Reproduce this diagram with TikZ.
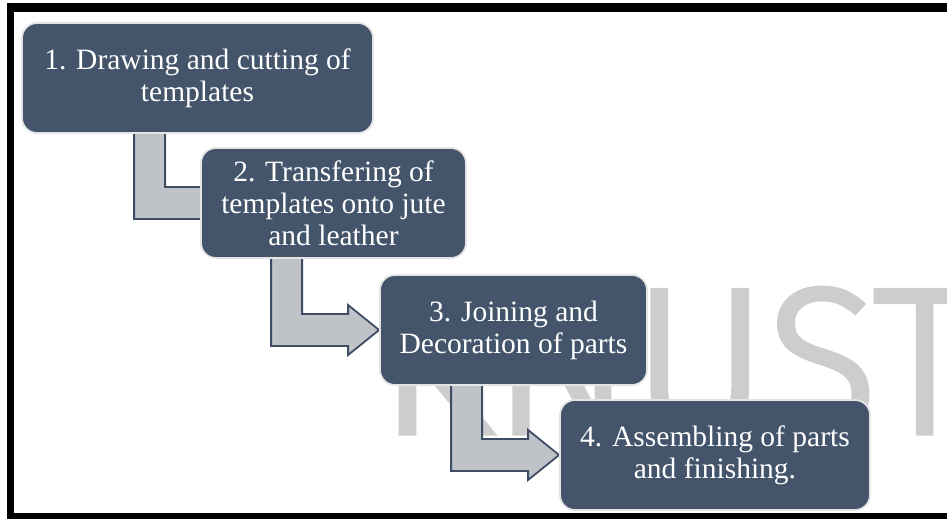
\documentclass[tikz,border=0pt]{standalone}
\usepackage{fontspec}
\setmainfont{Liberation Serif}
\newfontfamily\wmfont{Fira Sans}[UprightFont=* Light, FakeBold=2.5]
\usetikzlibrary{calc}
\definecolor{boxfill}{HTML}{44546A}
\definecolor{boxedge}{HTML}{E4E4E4}
\definecolor{arrowfill}{HTML}{BFC3C8}
\definecolor{arrowedge}{HTML}{3E4D63}
\definecolor{wmgray}{HTML}{CDCDCD}
\pgfdeclarelayer{watermark}
\pgfdeclarelayer{arrows}
\pgfsetlayers{watermark,arrows,main}

% bent block arrow: from box #1 down and right into box #2
% #3 = stem offset from the left edge of #1, #4 = shift of the tip past #2.west
\newcommand\stepflow[4]{%
  \draw[blockarrow] let \p1=(#1.south west), \p2=(#2.west) in
    (\x1+#3, \y1+6pt) -- (\x1+#3, \y2-16pt)
    -- (\x2+#4-31pt, \y2-16pt) -- (\x2+#4-31pt, \y2-25pt)
    -- (\x2+#4, \y2)
    -- (\x2+#4-31pt, \y2+25pt) -- (\x2+#4-31pt, \y2+16pt)
    -- (\x1+#3+31pt, \y2+16pt) -- (\x1+#3+31pt, \y1+6pt) -- cycle;
}

\begin{document}
\begin{tikzpicture}[x=1pt,y=-1pt,
  stepbox/.style={draw=boxedge, line width=1.8pt, fill=boxfill,
    rounded corners=15pt, text=white, align=center,
    font=\fontsize{29.5}{32}\selectfont, minimum height=110pt, inner sep=0pt},
  blockarrow/.style={draw=arrowedge, fill=arrowfill, line width=1.8pt, line join=miter},
  mark text/.style={text=wmgray, inner sep=0pt, font=\wmfont\fontsize{208}{208}\selectfont}]

\useasboundingbox (0,0) rectangle (947,519);

% frame
\fill[black] (7,3.5) rectangle (947,12);
\fill[black] (7,3.5) rectangle (13.5,519);
\fill[black] (7,512.5) rectangle (947,519);

% steps
\node[stepbox, minimum width=351pt] (s1) at (197.5,78) {1. Drawing and cutting of\\templates};
\node[stepbox, minimum width=265pt] (s2) at (333.5,203) {2. Transfering of\\templates onto jute\\and leather};
\node[stepbox, minimum width=267pt] (s3) at (513.5,330) {3. Joining and\\Decoration of parts};
\node[stepbox, minimum width=310pt] (s4) at (715,455) {4. Assembling of parts\\and finishing.};

\begin{pgfonlayer}{watermark}
  \node[mark text, anchor=base west] (wm) at (378,433) {KNUST};
\end{pgfonlayer}

\begin{pgfonlayer}{arrows}
  \stepflow{s1}{s2}{113pt}{40pt}
  \stepflow{s2}{s3}{71pt}{0pt}
  \stepflow{s3}{s4}{72pt}{0pt}
\end{pgfonlayer}
\end{tikzpicture}
\end{document}
